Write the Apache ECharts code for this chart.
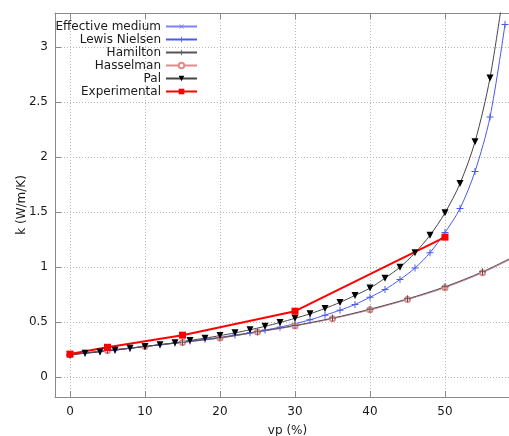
<!DOCTYPE html>
<html>
<head>
<meta charset="utf-8">
<script src="https://cdn.jsdelivr.net/npm/echarts@6/dist/echarts.min.js"></script>
<style>html,body{margin:0;padding:0;background:#fff}#c{width:509px;height:436px}</style>
</head>
<body>
<div id="c"></div>
<script>
// ---- data ----
const xTicks = [0, 10, 20, 30, 40, 50];
const yTicks = [0, 0.5, 1, 1.5, 2, 2.5, 3];

const xStep2 = [0,2,4,6,8,10,12,14,16,18,20,22,24,26,28,30,32,34,36,38,40,42,44,46,48,50,52,54,56,58];
const palK   = [0.205,0.217,0.23,0.245,0.262,0.279,0.295,0.313,0.334,0.355,0.378,0.403,0.431,0.462,0.497,0.535,0.576,0.625,0.68,0.743,0.81,0.9,1.0,1.13,1.29,1.494,1.76,2.14,2.72,3.6];
const lewisK = [0.205,0.219,0.233,0.248,0.263,0.279,0.295,0.311,0.328,0.345,0.363,0.383,0.404,0.428,0.455,0.486,0.522,0.564,0.609,0.661,0.727,0.797,0.888,0.992,1.132,1.315,1.533,1.87,2.364,3.206];

const xStep5 = [0,5,10,15,20,25,30,35,40,45,50,55,60];
const hamiltonK   = [0.205,0.243,0.28,0.318,0.358,0.413,0.47,0.537,0.618,0.712,0.822,0.958,1.125];
const hasselmanK  = [0.205,0.242,0.279,0.316,0.356,0.41,0.466,0.532,0.612,0.706,0.814,0.95,1.115];
const effMediumK  = [0.205,0.242,0.279,0.317,0.356,0.411,0.467,0.533,0.613,0.707,0.816,0.951,1.117];

const expX = [0, 5, 15, 30, 50];
const expK = [0.21, 0.272, 0.382, 0.60, 1.273];

const names = ['Effective medium','Lewis Nielsen','Hamilton','Hasselman','Pal','Experimental'];

// ---- build ----
const zip = (xs, ys) => xs.map((x, i) => [x, ys[i]]);
const PLUS = 'path://M4.3,0H5.7V10H4.3Z M0,4.3H10V5.7H0Z';
const FONT = 'DejaVu Sans';

const chart = echarts.init(document.getElementById('c'), null, {renderer: 'canvas'});
const axisLineStyle = {color: '#8a8a8a', width: 1};
const splitStyle = {show: true, lineStyle: {color: '#b8b8b8', type: [1, 2], width: 1}};

chart.setOption({
  animation: false,
  backgroundColor: '#fff',
  textStyle: {fontFamily: FONT},
  grid: {left: 55, top: 13, right: -11, bottom: 39, containLabel: false, outerBoundsMode: 'none'},
  legend: {
    orient: 'vertical', left: 50, top: 15, align: 'right',
    itemWidth: 31, itemHeight: 7, itemGap: 0,
    selectedMode: false,
    data: names,
    textStyle: {fontFamily: FONT, fontSize: 12, color: '#1a1a1a', width: 106, align: 'right', lineHeight: 13, padding: [0, 0, 0, 0]}
  },
  xAxis: [{
    type: 'value', min: -2, max: 60,
    name: 'vp (%)', nameLocation: 'middle', nameGap: 27.5, nameMoveOverlap: false,
    nameTextStyle: {fontFamily: FONT, fontSize: 12, color: '#1a1a1a'},
    axisLine: {show: true, onZero: false, lineStyle: axisLineStyle},
    axisTick: {show: true, inside: true, length: 6, lineStyle: axisLineStyle, customValues: xTicks},
    axisLabel: {fontFamily: FONT, fontSize: 12, color: '#1a1a1a', margin: 9, customValues: xTicks},
    splitLine: splitStyle
  }, {
    type: 'value', min: -2, max: 60, position: 'top',
    axisLine: {show: true, onZero: false, lineStyle: axisLineStyle},
    axisTick: {show: true, inside: true, length: 6, lineStyle: axisLineStyle, customValues: xTicks},
    axisLabel: {show: false},
    splitLine: {show: false}
  }],
  yAxis: {
    type: 'value', min: -0.18, max: 3.31,
    name: 'k (W/m/K)', nameLocation: 'middle', nameGap: 27, nameRotate: 90, nameMoveOverlap: false,
    nameTextStyle: {fontFamily: FONT, fontSize: 12, color: '#1a1a1a'},
    axisLine: {show: true, onZero: false, lineStyle: axisLineStyle},
    axisTick: {show: true, inside: true, length: 6, lineStyle: axisLineStyle, customValues: yTicks},
    axisLabel: {fontFamily: FONT, fontSize: 12, color: '#1a1a1a', margin: 7, customValues: yTicks},
    splitLine: splitStyle
  },
  series: [
    {name: 'Effective medium', type: 'line', data: zip(xStep5, effMediumK), smooth: 0.3,
     symbol: PLUS, symbolRotate: 45, symbolSize: 7,
     lineStyle: {color: '#8080ff', width: 1}, itemStyle: {color: '#8080ff'}},
    {name: 'Lewis Nielsen', type: 'line', data: zip(xStep2, lewisK), smooth: 0.3,
     symbol: PLUS, symbolSize: 7,
     lineStyle: {color: '#4a5ae8', width: 1}, itemStyle: {color: '#4a5ae8'}},
    {name: 'Hasselman', type: 'line', data: zip(xStep5, hasselmanK), smooth: 0.3,
     symbol: 'emptyCircle', symbolSize: 5,
     lineStyle: {color: '#e58a8a', width: 1}, itemStyle: {color: '#e58a8a', borderColor: '#e58a8a', borderWidth: 1}},
    {name: 'Hamilton', type: 'line', data: zip(xStep5, hamiltonK), smooth: 0.3,
     symbol: PLUS, symbolSize: 7,
     lineStyle: {color: '#555555', width: 1}, itemStyle: {color: '#555555'}},
    {name: 'Pal', type: 'line', data: zip(xStep2, palK), smooth: 0.3,
     symbol: 'triangle', symbolRotate: 180, symbolSize: 7,
     lineStyle: {color: '#444444', width: 1}, itemStyle: {color: '#000000'}},
    {name: 'Experimental', type: 'line', data: zip(expX, expK),
     symbol: 'rect', symbolSize: 7,
     lineStyle: {color: '#ff0000', width: 2}, itemStyle: {color: '#ff0000'}}
  ]
});
</script>
</body>
</html>
